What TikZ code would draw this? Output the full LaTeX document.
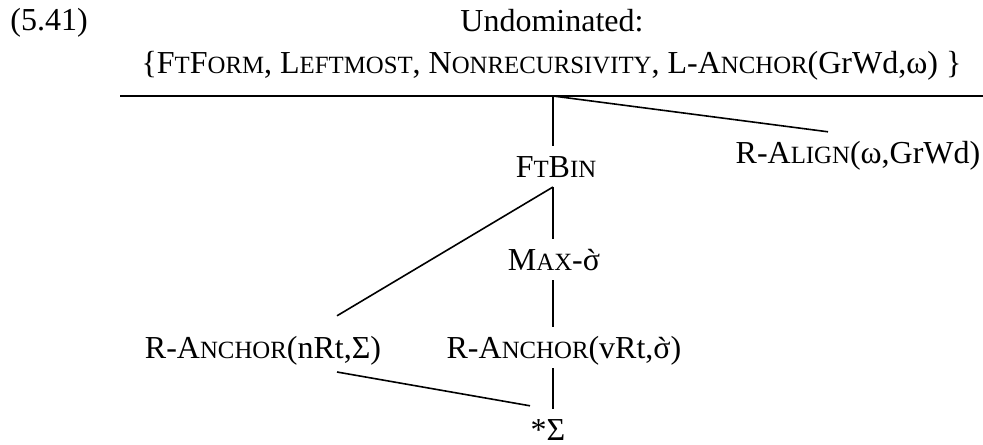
\documentclass[tikz,border=0pt]{standalone}
\usepackage{fontspec}
\setmainfont{Liberation Serif}
\newfontfamily\nolig[Ligatures=TeXOff]{Liberation Serif}
\newcommand\sck[1]{{\fontsize{12.4pt}{12.4pt}\selectfont #1}}
\newcommand\sgr{\setbox0\hbox{σ}\rlap{\hbox to\wd0{\hss\raisebox{-0.06em}{\nolig\char"60}\hss}}\box0}
\usetikzlibrary{calc}
\begin{document}
\begin{tikzpicture}[x=0.5pt,y=-0.5pt,
  lbl/.style={inner sep=0pt, outer ysep=5pt, text height=10.6pt, text depth=0pt, anchor=base, font=\fontsize{16pt}{18pt}\selectfont},
  edge/.style={line width=0.8pt}]
\useasboundingbox (0,0) rectangle (983,444);
\node[lbl, anchor=base west] (num) at (10,31) {(5.41)};
\node[lbl] (undom) at (552,32) {Undominated:};
\node[lbl] (list) at (551.5,74) {\{F\sck{T}F\sck{ORM}, L\sck{EFTMOST}, N\sck{ONRECURSIVITY}, L-A\sck{NCHOR}(GrWd,ω) \}};
\coordinate (lineL) at (120,96);
\coordinate (lineR) at (983,96);
\coordinate (root) at (553,96);
\draw[edge] (lineL) -- (lineR);
\node[lbl] (ralign) at (858,163) {R-A\sck{LIGN}(ω,GrWd)};
\node[lbl] (ftbin) at (556,177) {F\sck{T}B\sck{IN}};
\node[lbl] (max) at (554,270) {M\sck{AX}-\sgr};
\node[lbl] (nrt) at (263,358) {R-A\sck{NCHOR}(nRt,Σ)};
\node[lbl] (vrt) at (564,358) {R-A\sck{NCHOR}(vRt,\sgr)};
\node[lbl] (star) at (548,440) {*Σ};
\draw[edge] (root) -- (root |- ftbin.north);
\draw[edge] (root) -- ($(ralign.north)+(-30,0)$);
\draw[edge] (ftbin.south -| root) -- (max.north -| root);
\draw[edge] (ftbin.south -| root) -- ($(nrt.north)+(74,-11)$);
\draw[edge] (max.south -| root) -- (vrt.north -| root);
\draw[edge] ($(nrt.south)+(74,4)$) -- ($(star.north)+(-18,-3)$);
\draw[edge] (vrt.south -| root) -- (star.north -| root);
\end{tikzpicture}
\end{document}
